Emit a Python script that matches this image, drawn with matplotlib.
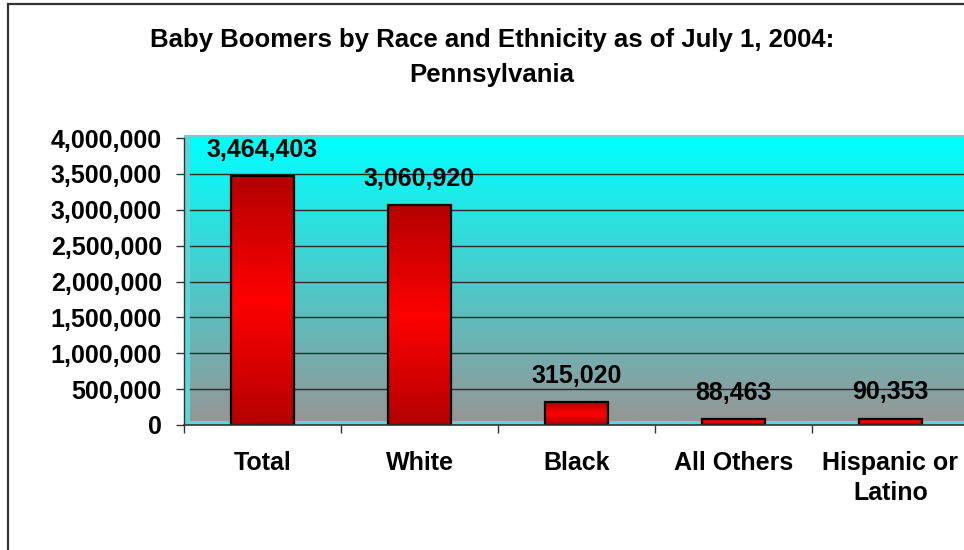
import numpy as np
import matplotlib
matplotlib.use("Agg")
import matplotlib.pyplot as plt
from matplotlib.patches import Rectangle
from matplotlib.ticker import FuncFormatter

# ---- data ----
categories = ["Total", "White", "Black", "All Others", "Hispanic or\nLatino"]
values = [3464403, 3060920, 315020, 88463, 90353]
yticks = [0, 500000, 1000000, 1500000, 2000000, 2500000, 3000000, 3500000, 4000000]
title_lines = ["Baby Boomers by Race and Ethnicity as of July 1, 2004:", "Pennsylvania"]

FONT = "Liberation Sans"
FS = 18
W, H = 964, 550

fig = plt.figure(figsize=(W / 100, H / 100), dpi=100)
fig.patch.set_facecolor("white")

# outer chart border (right/bottom edges fall outside the picture)
fig.patches.append(Rectangle((8 / W, -0.2), 1.2, 1.2 - 4 / H,
                             transform=fig.transFigure, fill=False,
                             edgecolor="#333333", linewidth=1.6))

# axes placement in pixels
left_px, right_px, top_px, bottom_px = 184, 969, 138, 425
ax = fig.add_axes([left_px / W, (H - bottom_px) / H,
                   (right_px - left_px) / W, (bottom_px - top_px) / H])
ax.set_facecolor("#5CD6D6")
ax_w = right_px - left_px
ax_h = bottom_px - top_px
dx = 6 / ax_w
dy = 4 / ax_h

# wall top edge band
ax.add_patch(Rectangle((0, 1), 1.2, 3 / ax_h, transform=ax.transAxes,
                       facecolor="#6CCFCF", edgecolor="none", clip_on=False, zorder=0))

# background gradient cyan -> gray
n = 256
t = np.linspace(0, 1, n)[:, None]
top_c = np.array([0, 255, 255]) / 255
bot_c = np.array([150, 150, 150]) / 255
grad = (top_c * (1 - t) + bot_c * t).reshape(n, 1, 3)
ax.imshow(grad, extent=(dx, 1.2, dy, 1), transform=ax.transAxes,
          aspect="auto", zorder=0, interpolation="bilinear")

# gridlines on the wall
for v in yticks[1:-1]:
    ax.axhline(v, xmin=dx, xmax=1, color="#2a2a2a", linewidth=1.0, zorder=1)

x = np.arange(len(categories))
bw = 0.4
bars = ax.bar(x, values, width=bw, color="none", edgecolor="black",
              linewidth=1.6, zorder=4)

# vertical gradient inside bars: dark - bright - dark
m = 200
s = np.linspace(0, 1, m)
k = 1 - np.abs(2 * s - 1)
dark = np.array([180, 0, 0]) / 255
bright = np.array([255, 0, 0]) / 255
bar_grad = (dark[None, :] * (1 - k[:, None]) + bright[None, :] * k[:, None]).reshape(m, 1, 3)
for xi, v, b in zip(x, values, bars):
    im = ax.imshow(bar_grad, extent=(xi - bw / 2, xi + bw / 2, 0, v),
                   aspect="auto", zorder=3, interpolation="bilinear")
    im.set_clip_path(b)

# data labels
for xi, v in zip(x, values):
    ax.annotate(f"{v:,}", (xi, v), xytext=(0, 13.7), textcoords="offset points",
                ha="center", va="baseline", fontsize=FS, fontweight="bold",
                family=FONT, color="black", zorder=6)

ax.set_xlim(-0.5, len(categories) - 0.5)
ax.set_ylim(0, 4000000)

ax.set_yticks(yticks)
ax.yaxis.set_major_formatter(FuncFormatter(lambda v, p: f"{v:,.0f}"))
ax.tick_params(axis="y", length=6, width=1.0, color="#333333", pad=10,
               direction="out")
ax.set_xticks(x)
ax.set_xticklabels(categories)
ax.set_xticks(np.arange(-0.5, len(categories), 1.0), minor=True)
ax.tick_params(axis="x", which="major", length=0, pad=19)
ax.tick_params(axis="x", which="minor", length=5.5, width=1.0, color="#333333",
               direction="out")
for lab in ax.get_xticklabels() + ax.get_yticklabels():
    lab.set_fontsize(FS)
    lab.set_fontweight("bold")
    lab.set_family(FONT)
for lab in ax.get_xticklabels():
    lab.set_linespacing(1.32)

for side in ["top", "right"]:
    ax.spines[side].set_visible(False)
ax.spines["left"].set_color("#333333")
ax.spines["bottom"].set_color("#333333")
ax.spines["left"].set_linewidth(1.0)
ax.spines["bottom"].set_linewidth(1.2)
ax.spines["left"].set_zorder(5)
ax.spines["bottom"].set_zorder(5)

# title
fig.text(492 / W, 1 - 47 / H, title_lines[0], ha="center", va="baseline",
         fontsize=18.5, fontweight="bold", family=FONT)
fig.text(492 / W, 1 - 82 / H, title_lines[1], ha="center", va="baseline",
         fontsize=18.5, fontweight="bold", family=FONT)

fig.savefig("out.png", dpi=100)
